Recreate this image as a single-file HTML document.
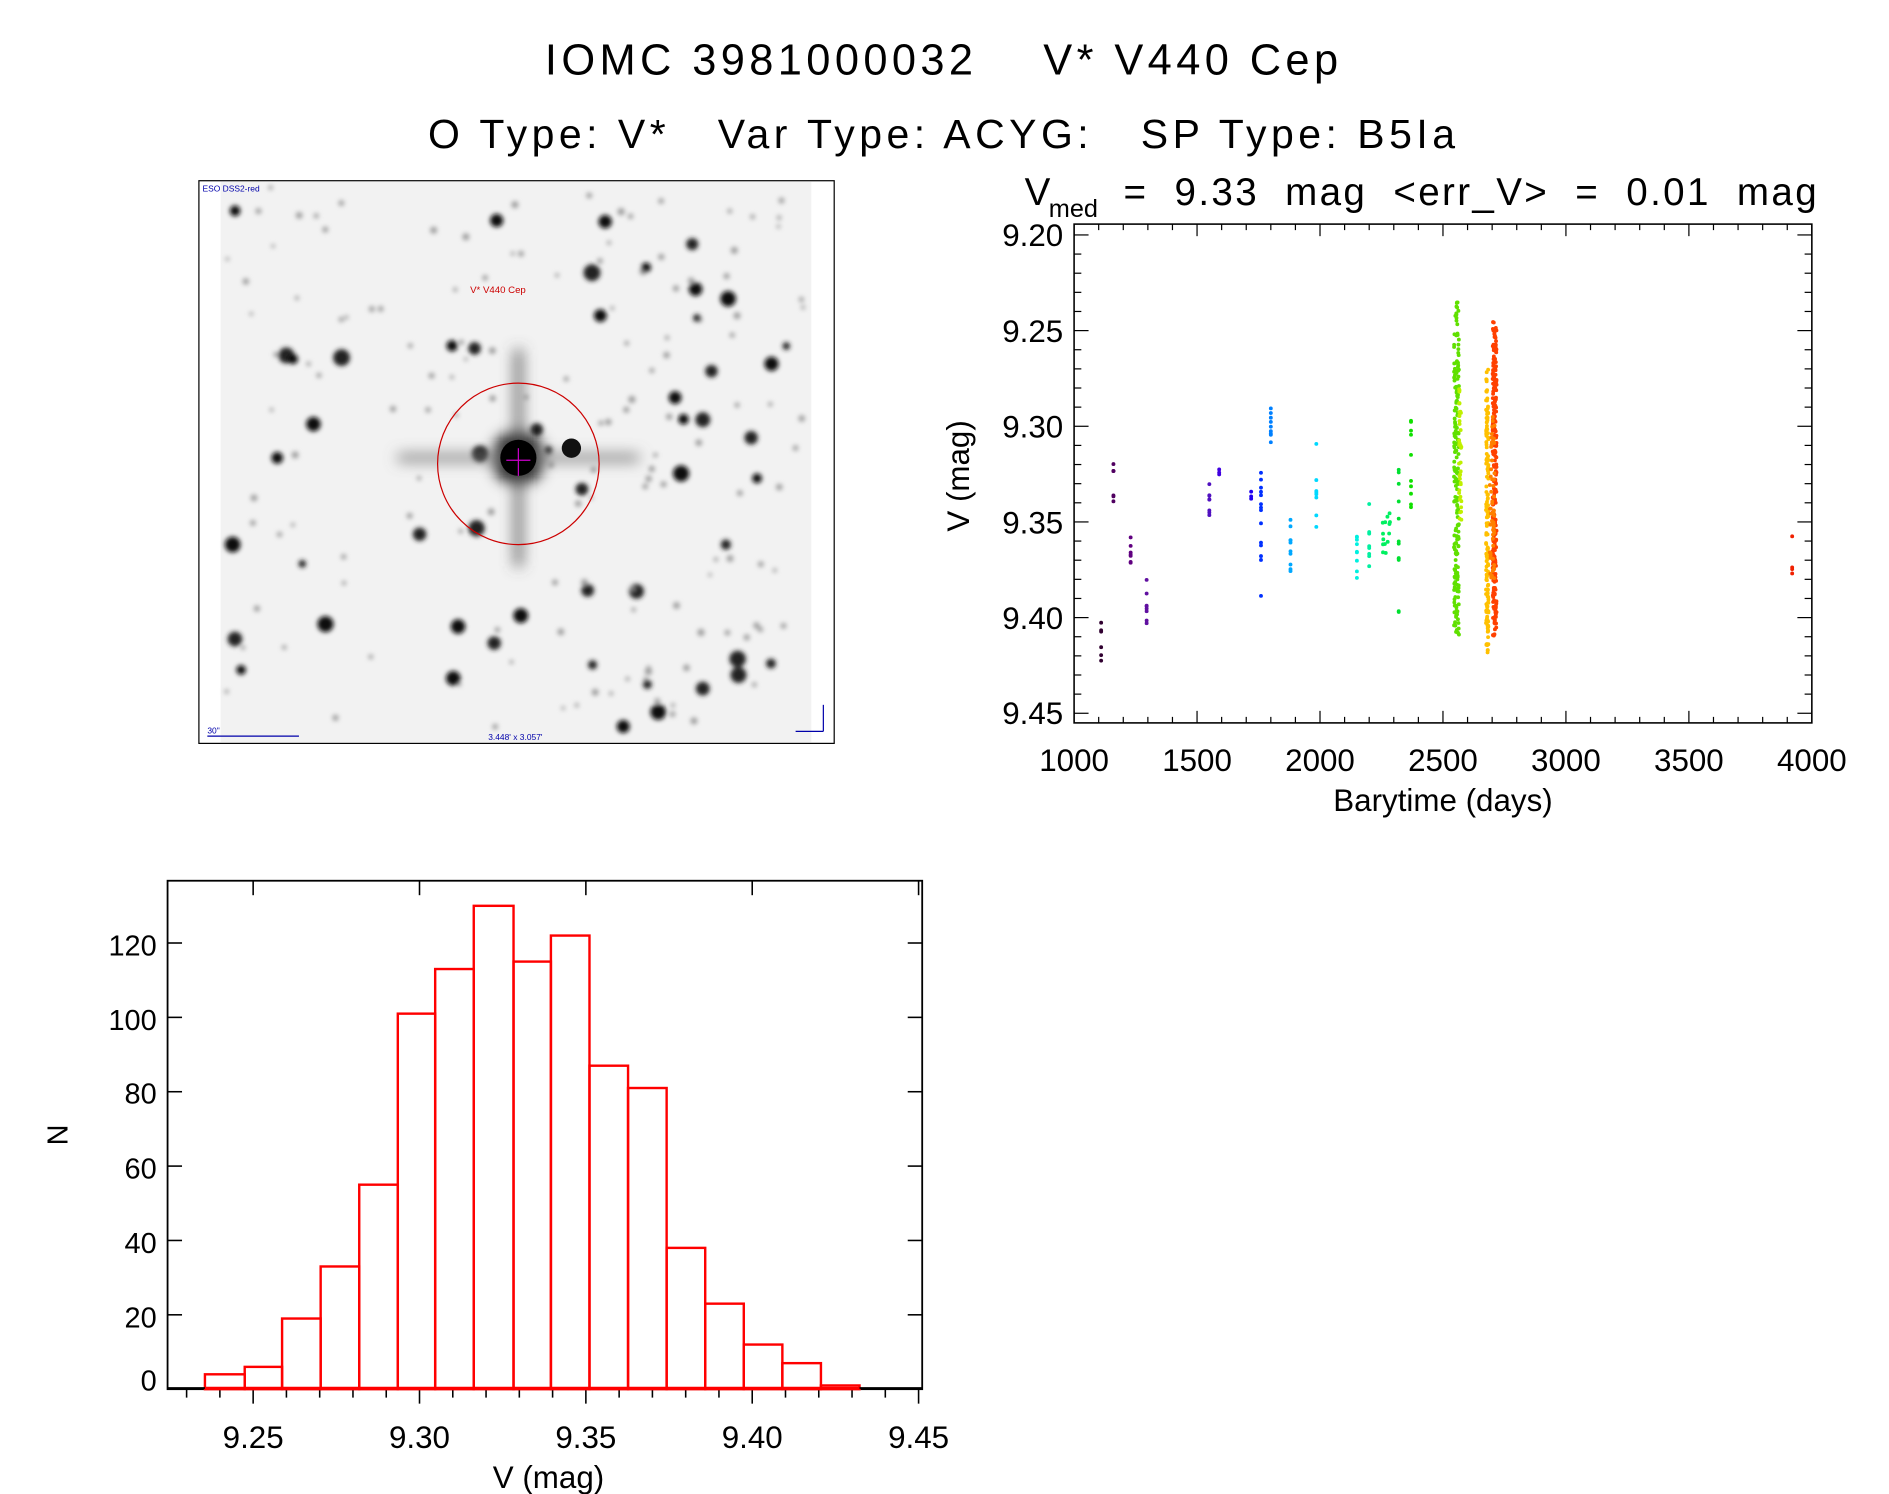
<!DOCTYPE html>
<html><head><meta charset="utf-8"><style>
html,body{margin:0;padding:0;background:#fff;}
svg{display:block;}
text{font-family:"Liberation Sans",sans-serif;fill:#000;}
</style></head><body>
<svg id="s" width="1889" height="1494" viewBox="0 0 1567 1240" preserveAspectRatio="none" xmlns="http://www.w3.org/2000/svg">
<text x="452" y="62" font-size="36" textLength="658" lengthAdjust="spacing" xml:space="preserve">IOMC 3981000032    V* V440 Cep</text>
<text x="355" y="123" font-size="34" textLength="852" lengthAdjust="spacing" xml:space="preserve">O Type: V*   Var Type: ACYG:   SP Type: B5Ia</text>

<defs><filter id="bl"><feGaussianBlur stdDeviation="2"/></filter>
<filter id="bl2"><feGaussianBlur stdDeviation="6"/></filter></defs>
<rect x="165" y="150" width="527" height="467" fill="#fff" stroke="#000" stroke-width="1"/>
<rect x="183" y="151" width="490" height="465" fill="#f2f2f2"/>
<g id="stars" filter="url(#bl)" fill="#222"></g>
<g filter="url(#bl2)"><circle cx="430" cy="380" r="22" fill="#000"/><rect x="427" y="290" width="6" height="180" fill="#555"/><rect x="330" y="377" width="200" height="6" fill="#777"/></g>
<circle cx="430" cy="380" r="15" fill="#000"/>
<circle cx="474" cy="372" r="8" fill="#111"/>
<circle cx="430" cy="385" r="67" fill="none" stroke="#c00" stroke-width="1"/>
<line x1="420" y1="382" x2="440" y2="382" stroke="#c0c" stroke-width="1"/>
<line x1="430" y1="372" x2="430" y2="395" stroke="#c0c" stroke-width="1"/>
<text x="390" y="243" font-size="8" style="fill:#c00">V* V440 Cep</text>
<text x="168" y="159" font-size="7" style="fill:#00a">ESO DSS2-red</text>
<line x1="172" y1="611" x2="248" y2="611" stroke="#00a"/>
<text x="172" y="609" font-size="7" style="fill:#00a">30"</text>
<text x="405" y="614" font-size="7" style="fill:#00a">3.448' x 3.057'</text>
<line x1="683" y1="585" x2="683" y2="607" stroke="#00a"/><line x1="660" y1="607" x2="683" y2="607" stroke="#00a"/>

<text x="850" y="170" font-size="32">V</text><text x="870" y="180" font-size="21">med</text>
<text x="932" y="170" font-size="32" textLength="575" lengthAdjust="spacing" xml:space="preserve">=  9.33  mag  &lt;err_V&gt;  =  0.01  mag</text>
<rect x="891" y="186" width="612" height="414" fill="none" stroke="#000" stroke-width="1.3"/>
<g id="lcax" stroke="#000" stroke-width="1"></g>
<g font-size="26" text-anchor="end">
<text x="882" y="204">9.20</text><text x="882" y="284">9.25</text><text x="882" y="363">9.30</text><text x="882" y="443">9.35</text><text x="882" y="522">9.40</text><text x="882" y="601">9.45</text></g>
<g font-size="26" text-anchor="middle">
<text x="891" y="640">1000</text><text x="993" y="640">1500</text><text x="1095" y="640">2000</text><text x="1197" y="640">2500</text><text x="1299" y="640">3000</text><text x="1401" y="640">3500</text><text x="1503" y="640">4000</text></g>
<text x="1197" y="673" font-size="26" text-anchor="middle">Barytime (days)</text>
<text transform="translate(804,395) rotate(-90)" font-size="26" text-anchor="middle">V (mag)</text>
<g id="pts"></g>

<rect x="139" y="731" width="626" height="422" fill="none" stroke="#000" stroke-width="1.5"/>
<g id="hax" stroke="#000" stroke-width="1.3"></g>
<g id="hist" fill="none" stroke="#f00" stroke-width="2"></g>
<g font-size="24" text-anchor="end">
<text x="130" y="1154">0</text><text x="130" y="1102">20</text><text x="130" y="1040">40</text><text x="130" y="978">60</text><text x="130" y="916">80</text><text x="130" y="855">100</text><text x="130" y="793">120</text></g>
<g font-size="26" text-anchor="middle">
<text x="210" y="1202">9.25</text><text x="348" y="1202">9.30</text><text x="486" y="1202">9.35</text><text x="624" y="1202">9.40</text><text x="762" y="1202">9.45</text></g>
<text x="455" y="1235" font-size="26" text-anchor="middle">V (mag)</text>
<text transform="translate(56,942) rotate(-90)" font-size="24" text-anchor="middle">N</text>
</svg>
<script>
var NS="http://www.w3.org/2000/svg";
function el(p,t,a){var e=document.createElementNS(NS,t);for(var k in a)e.setAttribute(k,a[k]);p.appendChild(e);return e;}
var seed=7;function r(){seed=(seed*16807)%2147483647;return seed/2147483647;}
var st=document.getElementById('stars');
for(var i=0;i<170;i++){var x=188+r()*480,y=155+r()*455;var s=r();el(st,'circle',{cx:x,cy:y,r:(s<0.85?1.5+r()*1.5:3+r()*4),fill:s<0.85?'#999':'#222'});}
[[195,175],[412,183],[502,184],[536,222],[577,240],[604,248],[498,262],[375,287],[243,298],[640,302],[560,330],[567,348],[193,452],[628,397],[565,393],[432,511],[270,518],[380,520],[376,563],[546,591],[230,380],[260,352],[517,603],[200,556]].forEach(function(p){el(st,'circle',{cx:p[0],cy:p[1],r:4+r()*3,fill:'#111'});});
var ax=document.getElementById('lcax');
for(var t=1000;t<=4000;t+=100){var x=891+(t-1000)*0.204;var L=(t%500==0)?10:5;el(ax,'line',{x1:x,y1:600,x2:x,y2:600-L});el(ax,'line',{x1:x,y1:186,x2:x,y2:186+L});}
for(var v=9.20;v<=9.4501;v+=0.01){var y=195+(v-9.20)*1588;var m=Math.abs((v*100)%5)<0.01||Math.abs((v*100)%5-5)<0.01;var L=m?12:6;el(ax,'line',{x1:891,y1:y,x2:891+L,y2:y});el(ax,'line',{x1:1503,y1:y,x2:1503-L,y2:y});}
function Y(v){return 195+(v-9.20)*1588;}function X(t){return 891+(t-1000)*0.204;}
var pg=document.getElementById('pts');
function grp(t,dt,lo,hi,n,col){for(var i=0;i<n;i++){el(pg,'circle',{cx:X(t+(r()-0.5)*dt),cy:Y(lo+r()*(hi-lo)),r:1.6,fill:col});}}
grp(1110,0,9.40,9.43,6,'#300030');grp(1160,0,9.312,9.34,7,'#500060');grp(1230,0,9.355,9.372,7,'#600080');grp(1295,0,9.38,9.405,8,'#6010a0');
grp(1550,0,9.33,9.35,8,'#5010c0');grp(1590,0,9.322,9.327,3,'#4000e0');grp(1720,0,9.334,9.338,3,'#2000f0');
grp(1760,0,9.32,9.393,14,'#0030ff');grp(1800,0,9.29,9.31,9,'#0080ff');grp(1880,0,9.33,9.385,10,'#00a8ff');grp(1985,0,9.308,9.36,8,'#00d8ff');
grp(2150,0,9.357,9.38,9,'#00f0e0');grp(2200,0,9.34,9.385,8,'#00f0a0');grp(2270,30,9.345,9.37,14,'#00f060');grp(2320,0,9.32,9.40,12,'#00e030');grp(2370,0,9.295,9.35,10,'#10e000');
grp(2555,20,9.235,9.41,200,'#60e000');grp(2570,10,9.28,9.35,40,'#c0f000');
grp(2680,10,9.27,9.42,150,'#ffc000');grp(2710,16,9.245,9.41,260,'#ff4000');grp(2700,20,9.29,9.38,60,'#ff8000');
grp(3920,0,9.345,9.38,4,'#f02000');
var ha=document.getElementById('hax');
for(var i=0;i<=6;i++){var y=1153-i*20*3.086;el(ha,'line',{x1:139,y1:y,x2:151,y2:y});el(ha,'line',{x1:765,y1:y,x2:753,y2:y});}
for(var v=9.23;v<=9.4501;v+=0.01){var x=210+(v-9.25)*2760;var m=Math.round(v*100)%5==0;el(ha,'line',{x1:x,y1:1153,x2:x,y2:m?1165:1160});if(m){el(ha,'line',{x1:x,y1:731,x2:x,y2:743});}}
var ed=[170,203,234,266,298,330,361,393,426,457,489,521,553,585,617,649,681,713];
var c=[4,6,19,33,55,101,113,130,115,122,87,81,38,23,12,7,1];
var hg=document.getElementById('hist');
for(var i=0;i<c.length;i++){el(hg,'rect',{x:ed[i],y:1153-c[i]*3.086,width:ed[i+1]-ed[i],height:c[i]*3.086});}
el(hg,'line',{x1:139,y1:1152,x2:765,y2:1152,stroke:'#000','stroke-width':1.5});
el(hg,'line',{x1:170,y1:1152,x2:713,y2:1152});
</script>
</body></html>
